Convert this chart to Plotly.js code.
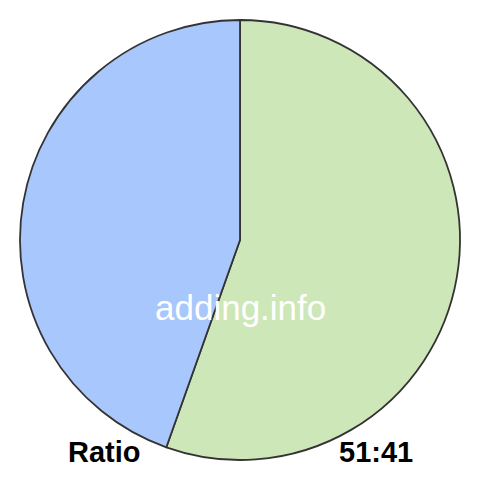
<!DOCTYPE html>
<html>
<head>
<meta charset="utf-8">
<script src="https://cdn.plot.ly/plotly-3.0.1.min.js"></script>
<style>html,body{margin:0;padding:0;background:#fff;}#chart{width:480px;height:480px;}</style>
</head>
<body>
<div id="chart"></div>
<script>
const labels = ["A", "B"];
const values = [51, 41];
const colors = ["#cde7b8", "#a8c7fd"];
const centerText = "adding.info";
const leftLabel = "Ratio";
const rightLabel = values.join(":");

const data = [{
  type: "pie",
  labels: labels,
  values: values,
  sort: false,
  direction: "clockwise",
  rotation: 0,
  textinfo: "none",
  hoverinfo: "none",
  marker: { colors: colors, line: { color: "#333333", width: 1.8 } },
  domain: { x: [20/480, 460/480], y: [20/480, 460/480] }
}];

const fam = "Liberation Sans, Arial, sans-serif";
const layout = {
  width: 480, height: 480,
  margin: { l: 0, r: 0, t: 0, b: 0 },
  paper_bgcolor: "#ffffff",
  showlegend: false,
  font: { family: fam },
  annotations: [
    { text: centerText, x: 0.5, y: 1 - 307/480, xref: "paper", yref: "paper", showarrow: false,
      xanchor: "center", yanchor: "middle",
      font: { size: 35, color: "#ffffff", family: fam } },
    { text: "<b>" + leftLabel + "</b>", x: 104/480, y: 1 - 452/480, xref: "paper", yref: "paper", showarrow: false,
      xanchor: "center", yanchor: "middle",
      font: { size: 29, color: "#000000", family: fam } },
    { text: "<b>" + rightLabel + "</b>", x: 376/480, y: 1 - 452/480, xref: "paper", yref: "paper", showarrow: false,
      xanchor: "center", yanchor: "middle",
      font: { size: 29, color: "#000000", family: fam } }
  ]
};

Plotly.newPlot("chart", data, layout, { displayModeBar: false, staticPlot: true });
</script>
</body>
</html>
